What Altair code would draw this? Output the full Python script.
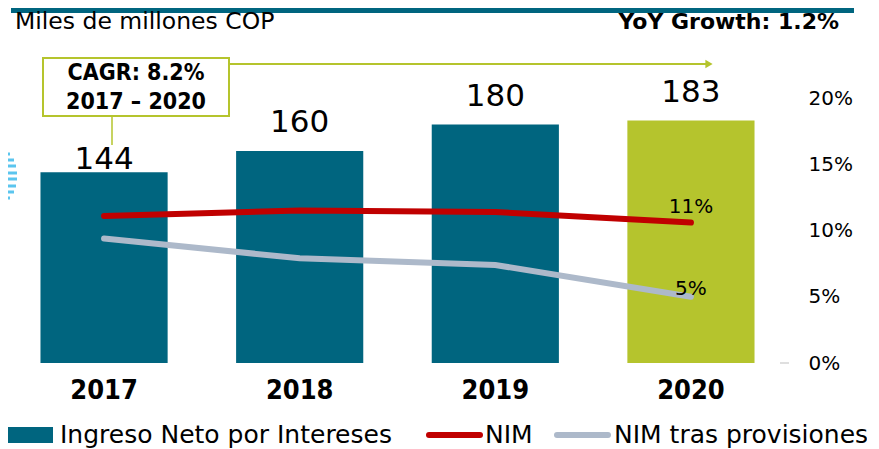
import altair as alt
import pandas as pd

years = ["2017", "2018", "2019", "2020"]
ingreso = [144, 160, 180, 183]
nim = [11.1, 11.5, 11.4, 10.6]
nim_prov = [9.4, 7.9, 7.4, 5.0]
bar_colors = ["#00657f", "#00657f", "#00657f", "#b5c42d"]

title_left = "Miles de millones COP"
title_right = "YoY Growth: 1.2%"
cagr_lines = ["CAGR: 8.2%", "2017 – 2020"]
legend_labels = ["Ingreso Neto por Intereses", "NIM", "NIM tras provisiones"]

TEAL = "#00657f"
GREEN = "#b5c42d"
RED = "#c00000"
GREY = "#adb9ca"
COND = "DejaVu Sans Condensed"
NUMF = "DejaVu Sans"

bars_df = pd.DataFrame({"year": years, "value": ingreso, "color": bar_colors})
lines_df = pd.DataFrame({
    "year": years * 2,
    "pct": [v / 100 for v in nim] + [v / 100 for v in nim_prov],
    "serie": ["NIM"] * 4 + ["NIM tras provisiones"] * 4,
})

W, H = 779, 265
xenc = alt.X("year:N", scale=alt.Scale(paddingInner=0.35, paddingOuter=0.166),
             axis=alt.Axis(title=None, domain=False, ticks=False, labelAngle=0,
                           labelFont=COND, labelFontWeight="bold", labelFontSize=27,
                           labelColor="#000", labelPadding=14))
yb = alt.Y("value:Q", scale=alt.Scale(domain=[0, 200]), axis=None)

base_b = alt.Chart(bars_df)
bars = base_b.mark_bar().encode(x=xenc, y=yb, color=alt.Color("color:N", scale=None))
blabel_a = base_b.transform_filter(alt.datum.year == "2017").mark_text(
    font=NUMF, fontSize=31, baseline="alphabetic", dy=-3, color="#000"
).encode(x=xenc, y=yb, text="value:Q")
blabel_b = base_b.transform_filter(alt.datum.year != "2017").mark_text(
    font=NUMF, fontSize=31, baseline="alphabetic", dy=-19, color="#000"
).encode(x=xenc, y=yb, text="value:Q")

yl = alt.Y("pct:Q", scale=alt.Scale(domain=[0, 0.20]),
           axis=alt.Axis(orient="right", title=None, domain=False, ticks=False, grid=False,
                         format=".0%", values=[0, 0.05, 0.10, 0.15, 0.20],
                         labelFont=NUMF, labelFontSize=20, labelColor="#000",
                         labelAlign="left", labelPadding=21))
lines = alt.Chart(lines_df).mark_line(strokeWidth=6, strokeCap="round").encode(
    x=xenc, y=yl,
    color=alt.Color("serie:N", scale=alt.Scale(domain=legend_labels[1:], range=[RED, GREY]), legend=None),
)
ylab = alt.Y("pct:Q", scale=alt.Scale(domain=[0, 0.20]), axis=None)
lab_nim = alt.Chart(lines_df).transform_filter(
    (alt.datum.year == "2020") & (alt.datum.serie == "NIM")
).mark_text(font=NUMF, fontSize=20, baseline="alphabetic", dy=-10, color="#000").encode(
    x=xenc, y=ylab, text=alt.Text("pct:Q", format=".0%"))
lab_prov = alt.Chart(lines_df).transform_filter(
    (alt.datum.year == "2020") & (alt.datum.serie != "NIM")
).mark_text(font=NUMF, fontSize=20, baseline="alphabetic", dy=-2, color="#000").encode(
    x=xenc, y=ylab, text=alt.Text("pct:Q", format=".0%"))

one = pd.DataFrame({"k": [0]})

top_band = alt.Chart(one).mark_rect(color=TEAL).encode(
    x=alt.value(3), x2=alt.value(846), y=alt.value(-90), y2=alt.value(-85))
t_left = alt.Chart(one).mark_text(text=title_left, font=NUMF, fontSize=23.5, align="left",
                                  baseline="alphabetic", color="#000").encode(
    x=alt.value(7), y=alt.value(-69))
t_right = alt.Chart(one).mark_text(text=title_right, font=NUMF, fontSize=22, fontWeight="bold",
                                   align="right", baseline="alphabetic", color="#000").encode(
    x=alt.value(831), y=alt.value(-69))
box = alt.Chart(one).mark_rect(fill="white", stroke=GREEN, strokeWidth=2).encode(
    x=alt.value(35), x2=alt.value(221), y=alt.value(-40), y2=alt.value(18))
cagr1 = alt.Chart(one).mark_text(text=cagr_lines[0], font=COND, fontSize=23, fontWeight="bold",
                                 baseline="alphabetic", color="#000").encode(
    x=alt.value(128), y=alt.value(-18))
cagr2 = alt.Chart(one).mark_text(text=cagr_lines[1], font=COND, fontSize=23, fontWeight="bold",
                                 baseline="alphabetic", color="#000").encode(
    x=alt.value(128), y=alt.value(11))
arrow = alt.Chart(one).mark_rule(color=GREEN, strokeWidth=2).encode(
    x=alt.value(221), x2=alt.value(698), y=alt.value(-34))
arrowhead = alt.Chart(one).mark_point(shape="triangle-right", filled=True, color=GREEN,
                                      size=70, opacity=1).encode(
    x=alt.value(701), y=alt.value(-34))
connector = alt.Chart(one).mark_rule(color=GREEN, strokeWidth=1.5).encode(
    x=alt.value(104), y=alt.value(18), y2=alt.value(47))
zero_tick = alt.Chart(one).mark_rule(color="#bfbfbf", strokeWidth=1).encode(
    x=alt.value(772), x2=alt.value(781), y=alt.value(H))

stripes = []
for yy, xe in [(56, 2), (62, 6), (68, 8), (75, 9), (81, 9), (88, 8), (94, 6), (100, 2)]:
    stripes.append(alt.Chart(one).mark_rule(color="#5bc5ee", strokeWidth=3).encode(
        x=alt.value(-10), x2=alt.value(xe), y=alt.value(yy)))

LF = 25
leg_rect = alt.Chart(one).mark_rect(color=TEAL).encode(
    x=alt.value(0), x2=alt.value(45), y=alt.value(329), y2=alt.value(345))
leg_t1 = alt.Chart(one).mark_text(text=legend_labels[0], font=NUMF, fontSize=LF, align="left",
                                  baseline="alphabetic", color="#000").encode(
    x=alt.value(52), y=alt.value(345))
leg_l1 = alt.Chart(one).mark_rule(color=RED, strokeWidth=6, strokeCap="round").encode(
    x=alt.value(421), x2=alt.value(472), y=alt.value(337))
leg_t2 = alt.Chart(one).mark_text(text=legend_labels[1], font=NUMF, fontSize=LF, align="left",
                                  baseline="alphabetic", color="#000").encode(
    x=alt.value(477), y=alt.value(345))
leg_l2 = alt.Chart(one).mark_rule(color=GREY, strokeWidth=6, strokeCap="round").encode(
    x=alt.value(549), x2=alt.value(600), y=alt.value(337))
leg_t3 = alt.Chart(one).mark_text(text=legend_labels[2], font=NUMF, fontSize=LF, align="left",
                                  baseline="alphabetic", color="#000").encode(
    x=alt.value(606), y=alt.value(345))

chart = alt.layer(
    top_band, t_left, t_right,
    bars, blabel_a, blabel_b, zero_tick,
    lines, lab_nim, lab_prov,
    arrow, arrowhead, connector, box, cagr1, cagr2,
    *stripes,
    leg_rect, leg_t1, leg_l1, leg_t2, leg_l2, leg_t3,
).resolve_scale(y="independent").properties(
    width=W, height=H,
    background="white",
    autosize=alt.AutoSizeParams(type="none"),
    padding={"left": 0, "top": 90, "right": 80, "bottom": 95},
).configure_view(strokeWidth=0, stroke=None)

chart.save("out.html", embed_options={"renderer": "svg", "actions": False})
